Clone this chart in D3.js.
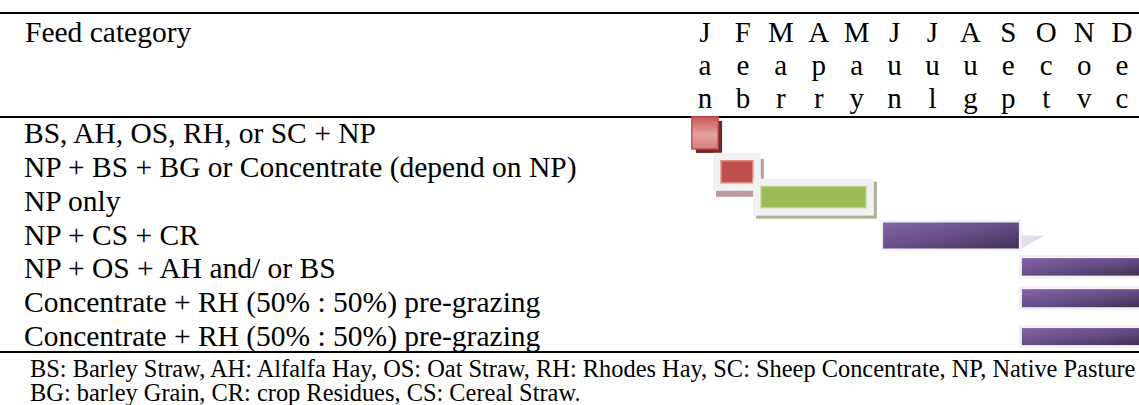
<!DOCTYPE html>
<html lang="en">
<head>
    <meta charset="UTF-8">
    <title>Feed calendar</title>
    <script src="https://d3js.org/d3.v7.min.js"></script>
    <style>
        body { margin: 0; background: #fff; }
        text { font-family: 'Liberation Serif', 'Times New Roman', serif; fill: #000; }
    </style>
</head>
<body>
    <div id="plot"></div>

    <script>
        function translate(x, y){
            return 'translate(' + x + ', ' + y + ')';
        }

        // data
        let headerLabel = 'Feed category';
        let months = ['Jan', 'Feb', 'Mar', 'Apr', 'May', 'Jun', 'Jul', 'Aug', 'Sep', 'Oct', 'Nov', 'Dec'];
        let categories = [
            'BS, AH, OS, RH, or SC + NP',
            'NP + BS + BG or Concentrate (depend on NP)',
            'NP only',
            'NP + CS + CR',
            'NP + OS + AH and/ or BS',
            'Concentrate + RH (50% : 50%) pre-grazing',
            'Concentrate + RH (50% : 50%) pre-grazing'
        ];
        // start / end of each feeding period, in months from 1 Jan
        let periodStart = [0.05, 0.83, 1.9, 5.16, 8.87, 8.87, 8.87];
        let periodEnd   = [0.75, 1.68, 4.7, 8.79, 12, 12, 12];
        let footnotes = [
            'BS: Barley Straw, AH: Alfalfa Hay, OS: Oat Straw, RH: Rhodes Hay, SC: Sheep Concentrate, NP, Native Pasture',
            'BG: barley Grain, CR: crop Residues, CS: Cereal Straw.'
        ];

        // look of each bar (shape style only)
        let barStyle = [
            {h: 32, dy: 0,    pad: 0,   fill: 'url(#gRed)',    stroke: '#c0504d', frame: null,      shadow: '#6e2826', sx: 4, sy: 4},
            {h: 22, dy: 5,    pad: 8,   fill: '#c0504d',       stroke: '#e08a88', frame: '#f1f1f1', shadow: '#bc9d9d', sx: 3, sy: 6},
            {h: 21, dy: -3.5, pad: 8,   fill: '#9bbb59',       stroke: '#b8d08a', frame: '#f1f1f1', shadow: '#a8b190', sx: 3, sy: 3},
            {h: 26, dy: 1,    pad: 2.5, fill: 'url(#gPurple)', stroke: 'none',    frame: '#f2f1f4', shadow: null, tri: true},
            {h: 17.5, dy: -1.5, pad: 3, fill: 'url(#gPurple)', stroke: 'none',    frame: '#f2f1f4', shadow: null},
            {h: 18, dy: -4,   pad: 3,   fill: 'url(#gPurple)', stroke: 'none',    frame: '#f2f1f4', shadow: null},
            {h: 17, dy: 0.5,  pad: 3,   fill: 'url(#gPurple)', stroke: 'none',    frame: '#f2f1f4', shadow: null}
        ];

        let svgWidth = 1139;
        let svgHeight = 405;

        let svg = d3.select('#plot')
                    .append('svg')
                        .attr('width', svgWidth)
                        .attr('height', svgHeight);

        let defs = svg.append('defs');
        let gRed = defs.append('linearGradient').attr('id', 'gRed')
                        .attr('x1', 0).attr('y1', 0).attr('x2', 0).attr('y2', 1);
        gRed.append('stop').attr('offset', '0%').attr('stop-color', '#cd5654');
        gRed.append('stop').attr('offset', '55%').attr('stop-color', '#e3a3a1');
        gRed.append('stop').attr('offset', '100%').attr('stop-color', '#d57d7b');

        let gPurple = defs.append('linearGradient').attr('id', 'gPurple')
                        .attr('x1', 0).attr('y1', 0).attr('x2', 1).attr('y2', 1);
        gPurple.append('stop').attr('offset', '0%').attr('stop-color', '#8465a6');
        gPurple.append('stop').attr('offset', '55%').attr('stop-color', '#634c84');
        gPurple.append('stop').attr('offset', '100%').attr('stop-color', '#3f3152');

        // scales
        let x = d3.scaleLinear()
                    .domain([0, 12])
                    .range([690, 1139]);
        let monthX = d3.scaleBand()
                    .domain(months)
                    .range([686, 1141]);
        let y = d3.scaleBand()
                    .domain(d3.range(categories.length))
                    .range([116, 353]);

        // rules
        [13, 117, 352].forEach(function(ly){
            svg.append('line').attr('x1', 0).attr('x2', svgWidth).attr('y1', ly).attr('y2', ly)
                .attr('stroke', '#000').attr('stroke-width', 2.2);
        });

        // header
        svg.append('text')
            .attr('x', 25).attr('y', 42)
            .style('font-size', '29.5px')
            .text(headerLabel);

        let headRows = [0, 1, 2];
        let mg = svg.append('g').selectAll('g')
                    .data(months)
                    .join('g')
                    .attr('transform', m => translate(monthX(m) + monthX.bandwidth() / 2, 0));
        headRows.forEach(function(i){
            mg.append('text')
                .attr('y', 42 + i * 33)
                .attr('text-anchor', 'middle')
                .style('font-size', '29px')
                .text(m => m[i]);
        });

        // category labels
        svg.append('g').selectAll('text')
            .data(categories)
            .join('text')
            .attr('x', 24)
            .attr('y', (d, i) => y(i) + y.bandwidth() / 2 + 10)
            .style('font-size', '29.5px')
            .text(d => d);

        // bars
        let bars = svg.append('g').selectAll('g')
                    .data(categories.map((c, i) => ({i: i, s: periodStart[i], e: periodEnd[i], st: barStyle[i]})))
                    .join('g')
                    .attr('transform', d => translate(0, y(d.i) + y.bandwidth() / 2 + d.st.dy));

        bars.filter(d => d.st.shadow)
            .append('rect')
            .attr('x', d => x(d.s) - d.st.pad + d.st.sx)
            .attr('y', d => -d.st.h / 2 - d.st.pad + d.st.sy)
            .attr('width', d => x(d.e) - x(d.s) + 2 * d.st.pad)
            .attr('height', d => d.st.h + 2 * d.st.pad)
            .attr('fill', d => d.st.shadow);

        bars.filter(d => d.st.tri)
            .append('path')
            .attr('d', d => 'M' + (x(d.e) + 2.5) + ',0 L' + (x(d.e) + 26) + ',0 L' + (x(d.e) + 2.5) + ',13 Z')
            .attr('fill', '#e3ddee');

        bars.filter(d => d.st.frame)
            .append('rect')
            .attr('x', d => x(d.s) - d.st.pad)
            .attr('y', d => -d.st.h / 2 - d.st.pad)
            .attr('width', d => x(d.e) - x(d.s) + 2 * d.st.pad)
            .attr('height', d => d.st.h + 2 * d.st.pad)
            .attr('fill', d => d.st.frame);

        bars.append('rect')
            .attr('x', d => x(d.s))
            .attr('y', d => -d.st.h / 2)
            .attr('width', d => x(d.e) - x(d.s))
            .attr('height', d => d.st.h)
            .attr('fill', d => d.st.fill)
            .attr('stroke', d => d.st.stroke)
            .attr('stroke-width', 1.5);

        // footnotes
        svg.append('g').selectAll('text')
            .data(footnotes)
            .join('text')
            .attr('x', 30)
            .attr('y', (d, i) => 377 + i * 24)
            .style('font-size', '24.4px')
            .text(d => d);
    </script>
</body>
</html>
